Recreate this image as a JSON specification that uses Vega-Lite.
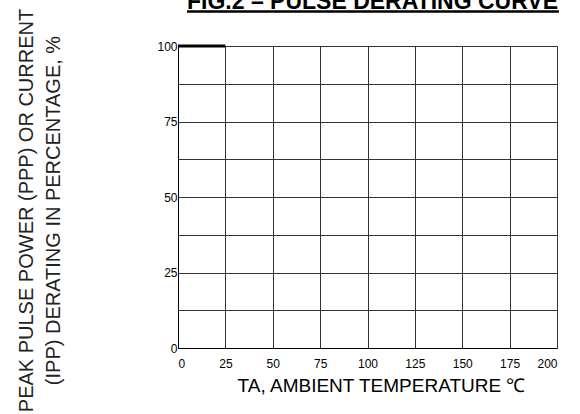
{
  "$schema": "https://vega.github.io/schema/vega-lite/v6.json",
  "width": 379,
  "height": 302,
  "autosize": "none",
  "padding": {"top": 46, "left": 178, "right": 23, "bottom": 66},
  "background": "white",
  "title": {
    "text": "FIG.2 – PULSE DERATING CURVE",
    "font": "Liberation Sans",
    "fontSize": 23,
    "fontWeight": "bold",
    "color": "black",
    "anchor": "middle",
    "offset": -6,
    "dx": 5
  },
  "config": {
    "view": {"stroke": null},
    "axis": {
      "labelFont": "Liberation Sans",
      "titleFont": "Liberation Sans",
      "labelColor": "black",
      "titleColor": "#222",
      "domainColor": "black",
      "gridColor": "#333",
      "gridOpacity": 1,
      "gridWidth": 1,
      "ticks": false
    }
  },
  "data": {
    "values": [
      {"temp": 0, "pct": 100},
      {"temp": 25, "pct": 100}
    ]
  },
  "resolve": {"axis": {"x": "independent", "y": "independent"}},
  "layer": [
    {
      "mark": {"type": "line", "color": "black", "strokeWidth": 3, "clip": false},
      "encoding": {
        "x": {
          "field": "temp",
          "type": "quantitative",
          "scale": {"domain": [0, 200], "nice": false},
          "axis": {
            "values": [0, 25, 50, 75, 100, 125, 150, 175, 200],
            "labelFontSize": 12,
            "labelPadding": 10,
            "title": "TA, AMBIENT  TEMPERATURE  ℃",
            "titleFontSize": 19,
            "titleFontWeight": "normal",
            "titleColor": "black",
            "titleX": 203,
            "titleY": 43,
            "titleAlign": "center",
            "titleBaseline": "alphabetic"
          }
        },
        "y": {
          "field": "pct",
          "type": "quantitative",
          "scale": {"domain": [0, 100], "nice": false},
          "axis": {
            "values": [0, 12.5, 25, 37.5, 50, 62.5, 75, 87.5, 100],
            "labelExpr": "datum.value % 25 === 0 ? datum.label : ''",
            "labelFontSize": 12,
            "labelPadding": 1,
            "title": ["PEAK PULSE POWER (PPP) OR CURRENT", "(IPP) DERATING IN PERCENTAGE, %"],
            "titleFontSize": 20,
            "titleFontWeight": "normal",
            "titleLineHeight": 27,
            "titleX": -152,
            "titleY": 164,
            "titleAlign": "center",
            "titleBaseline": "middle"
          }
        }
      }
    },
    {
      "mark": {"type": "rule", "color": "black", "strokeWidth": 2, "clip": false},
      "encoding": {
        "x": {"datum": 4.75, "axis": null},
        "x2": {"datum": 201},
        "y": {"datum": 111.4, "axis": null}
      }
    }
  ]
}
